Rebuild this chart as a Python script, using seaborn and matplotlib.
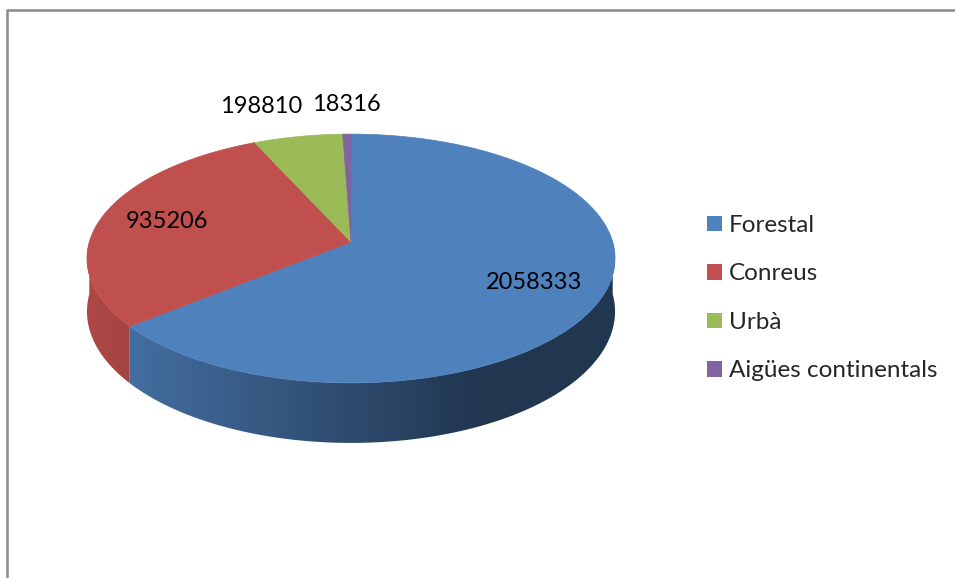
import numpy as np
import matplotlib
matplotlib.use('Agg')
import matplotlib.pyplot as plt
import seaborn as sns
from matplotlib.patches import Patch, Polygon
from matplotlib.lines import Line2D

# Land use areas (ha)
categories = ['Forestal', 'Conreus', 'Urbà', 'Aigües continentals']
values = [2058333, 935206, 198810, 18316]
colors = ['#4F81BD', '#C0504D', '#9BBB59', '#8064A2']

sns.set_theme(style='white')
plt.rcParams['font.family'] = ['Lato', 'DejaVu Sans']

W, H = 955, 578
fig = plt.figure(figsize=(W / 100, H / 100), dpi=100)
ax = fig.add_axes([0, 0, 1, 1])

# pie geometry in pixels (apex position, horizontal radius)
cx, cy, rad = 351.0, 242.0, 261.7
ry = 0.467      # vertical squash of the top face
persp = 0.1325  # far side is drawn smaller
depth = 0.199   # thickness of the pie

ax.set_xlim(-cx / rad, (W - cx) / rad)
ax.set_ylim(-(H - cy) / rad, cy / rad)
ax.axis('off')


def proj(theta, r=1.0, drop=0.0):
    t = np.radians(theta)
    w = 1 + persp * r * np.sin(t)
    return r * np.cos(t) / w, (ry * r * np.sin(t) - drop) / w


total = float(sum(values))
spans = [360.0 * v / total for v in values]
# clockwise from 12 o'clock
ends = 90 - np.concatenate([[0], np.cumsum(spans)[:-1]])
starts = ends - np.array(spans)

# side wall (front half only), lit from the left
gx = np.linspace(-1.05, 1.05, 400)
gshade = np.interp(gx, [-1.0, 0.5], [0.9, 0.42])
for t1, t2, col in zip(starts, ends, colors):
    base = np.array(matplotlib.colors.to_rgb(col))
    for lo, hi in [(-180, 0), (180, 360)]:
        a, b = max(t1, lo), min(t2, hi)
        if b <= a:
            continue
        th = np.linspace(a, b, max(3, int((b - a) * 3)))
        xs1, ys1 = proj(th)
        xs2, ys2 = proj(th[::-1], drop=depth)
        poly = Polygon(np.c_[np.r_[xs1, xs2], np.r_[ys1, ys2]], closed=True,
                       fc='none', ec='none', transform=ax.transData)
        ax.add_patch(poly)
        img = np.clip(gshade[None, :, None] * base[None, None, :], 0, 1)
        im = ax.imshow(img, extent=(gx[0], gx[-1], ys2.min() - 0.01, ys1.max() + 0.01),
                       aspect='auto', interpolation='bilinear', zorder=1)
        im.set_clip_path(poly)
ax.set_xlim(-cx / rad, (W - cx) / rad)
ax.set_ylim(-(H - cy) / rad, cy / rad)

# top face
for t1, t2, col in zip(starts, ends, colors):
    th = np.linspace(t1, t2, max(3, int((t2 - t1) * 2)))
    xs, ys = proj(th)
    ax.fill(np.r_[0, xs], np.r_[0, ys], color=col, lw=0.5, ec=col, zorder=2)

# data labels
fs = 17
for t1, t2, v in zip(starts, ends, values):
    mid = ((t1 + t2) / 2) % 360
    if v / total > 0.1:
        x, y = proj(mid, 0.74)
        ax.text(x, y, str(v), ha='center', va='center', fontsize=fs,
                color='black', zorder=3)
    else:
        x, y = proj(mid, 1.0)
        ha = 'center' if abs(mid - 90) < 3 else 'right'
        dx = 0 if ha == 'center' else 3
        ax.annotate(str(v), (x, y), xytext=(dx, 14), textcoords='offset points',
                    ha=ha, va='bottom', fontsize=fs, color='black', zorder=3)

handles = [Patch(facecolor=c, edgecolor='none') for c in colors]
fig.legend(handles, categories, loc='upper left',
           bbox_to_anchor=(707 / W, 1 - 215 / H), frameon=False,
           fontsize=17.5, handlelength=0.6, handleheight=0.6,
           handletextpad=0.3, labelspacing=1.13, borderpad=0, borderaxespad=0)

# chart frame
fig.add_artist(Line2D([7 / W, 7 / W, 1], [0, 1 - 10 / H, 1 - 10 / H],
                      transform=fig.transFigure, color='#8a8a8a', lw=1.8))

fig.savefig('out.png', dpi=100)
